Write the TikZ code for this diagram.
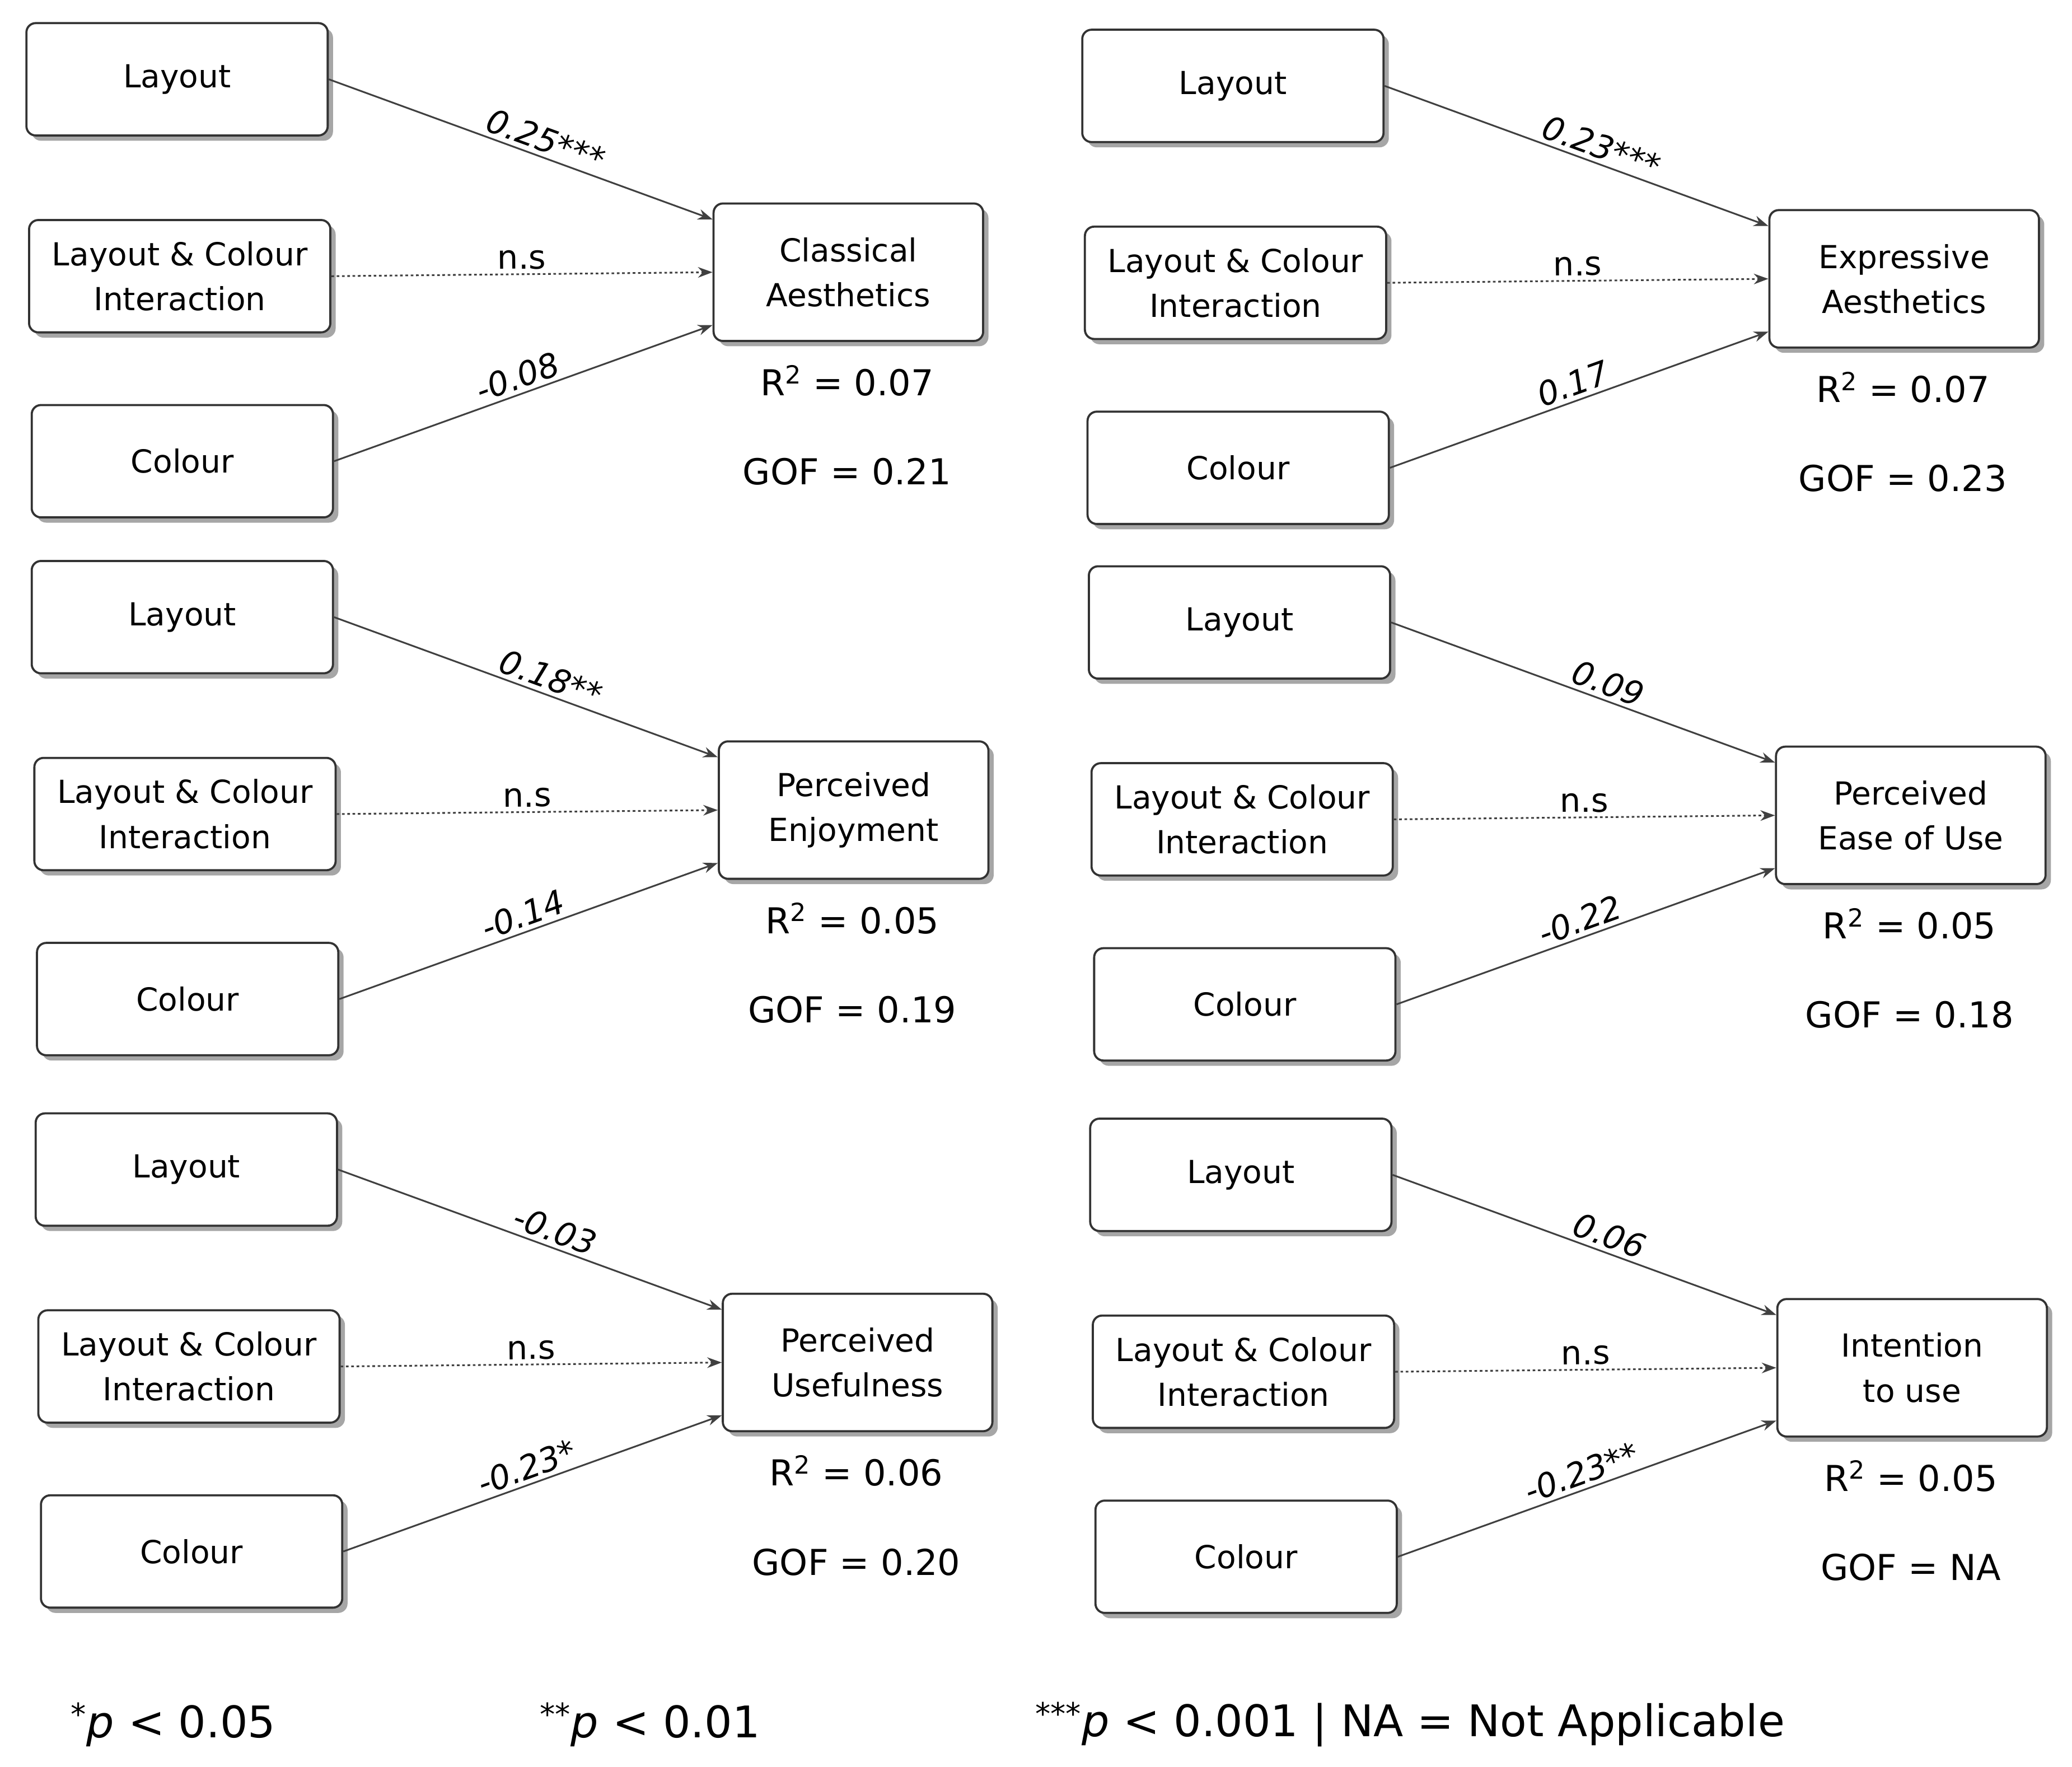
\documentclass[tikz,border=0pt]{standalone}
\usepackage{fontspec}
\setmainfont{DejaVu Sans}
\usetikzlibrary{shadows,arrows.meta}
\tikzset{
 box/.style={draw=black!80,line width=1.6pt,rounded corners=7pt,fill=white,align=center,
   drop shadow={shadow xshift=4pt,shadow yshift=-4pt,fill=black!35,opacity=1},
   font=\fontsize{24}{34}\selectfont},
 src/.style={box,minimum width=228pt,minimum height=85pt},
 tgt/.style={box,minimum width=204pt,minimum height=104pt},
 ln/.style={draw=black!75,line width=1.3pt,-{Stealth[length=11pt,width=8pt]}},
 dl/.style={ln,dash pattern=on 2pt off 2pt},
 lab/.style={font=\fontsize{25}{28}\selectfont\itshape,sloped,above,inner sep=3pt},
 stat/.style={font=\fontsize{27}{30}\selectfont}
}
\newcommand\panel[9]{%
 \begin{scope}[shift={(#2,#3)}]
 \node[src] (#1L) at (134,60) {Layout};
 \node[src] (#1I) at (136,209) {Layout \& Colour\\Interaction};
 \node[src] (#1C) at (138,349) {Colour};
 \node[tgt] (#1T) at (642,206) {#4};
 \draw[ln] (#1L.east) -- ([yshift=40pt]#1T.west) node[lab,pos=0.55] {#5};
 \draw[dl] (#1I.east) -- (#1T.west) node[lab,pos=0.5] {\upshape n.s};
 \draw[ln] (#1C.east) -- ([yshift=-40pt]#1T.west) node[lab,pos=0.5] {#6};
 \node[stat] (#1R) at (641,288) {R\textsuperscript{2} = #7};
 \node[stat] (#1G) at (641,357) {GOF = #8};
 \end{scope}}
\begin{document}
\begin{tikzpicture}[x=1pt,y=-1pt]
\useasboundingbox (0,0) rectangle (1568,1337);
\panel{a}{0}{0}{Classical\\Aesthetics}{0.25***}{-0.08}{0.07}{0.21}{}
\panel{b}{799}{5}{Expressive\\Aesthetics}{0.23***}{0.17}{0.07}{0.23}{}
\panel{c}{4}{407}{Perceived\\Enjoyment}{0.18**}{-0.14}{0.05}{0.19}{}
\panel{d}{804}{411}{Perceived\\Ease of Use}{0.09}{-0.22}{0.05}{0.18}{}
\panel{e}{7}{825}{Perceived\\Usefulness}{-0.03}{-0.23*}{0.06}{0.20}{}
\panel{f}{805}{829}{Intention\\to use}{0.06}{-0.23**}{0.05}{NA}{}
\node[font=\fontsize{33}{36}\selectfont,anchor=west] (n1) at (50,1305) {\textsuperscript{*}\textit{p} < 0.05};
\node[font=\fontsize{33}{36}\selectfont,anchor=west] (n2) at (405,1305) {\textsuperscript{**}\textit{p} < 0.01};
\node[font=\fontsize{33}{36}\selectfont,anchor=west] (n3) at (780,1305) {\textsuperscript{***}\textit{p} < 0.001 | NA = Not Applicable};
\end{tikzpicture}
\end{document}
